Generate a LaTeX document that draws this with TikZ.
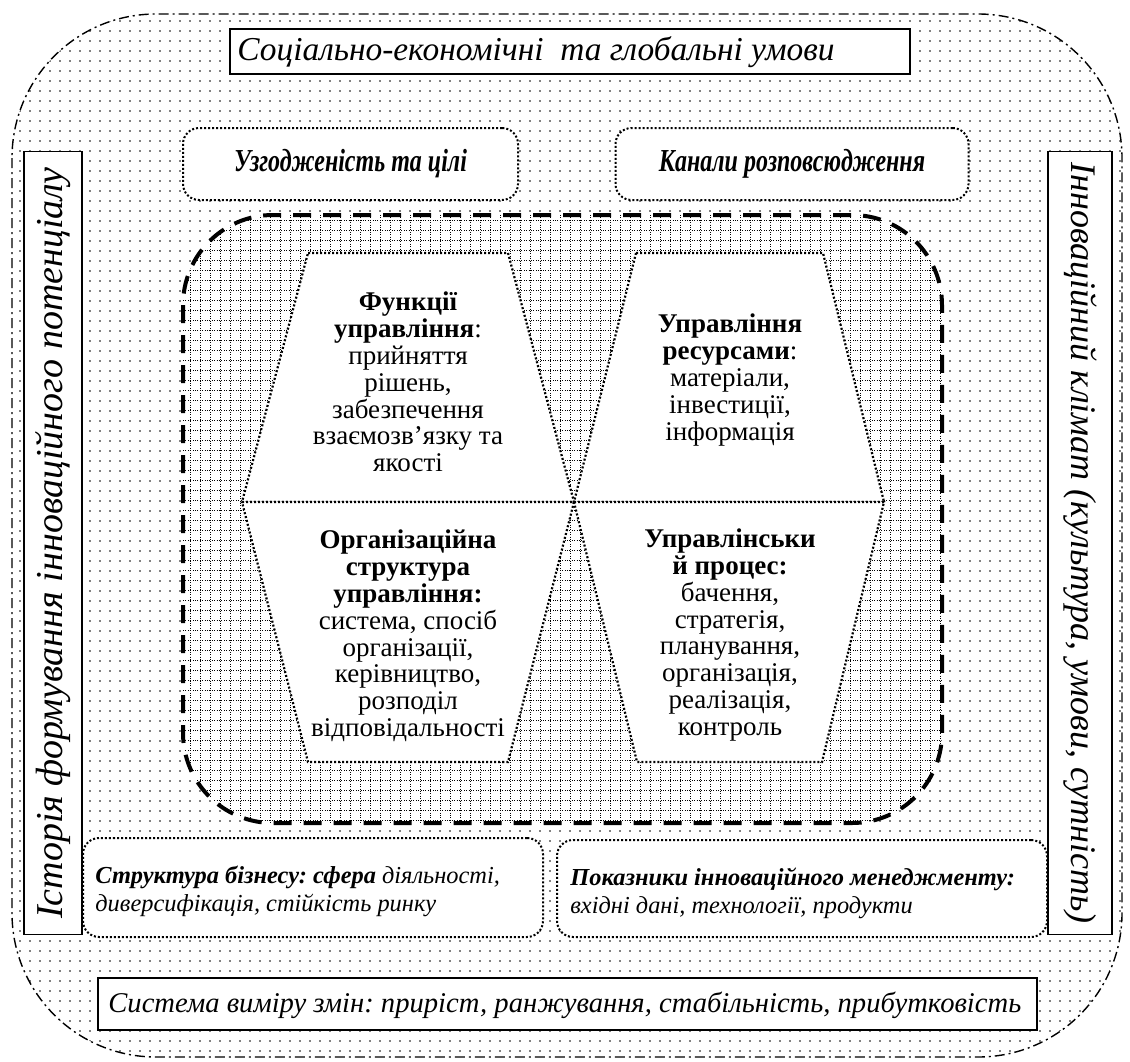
\documentclass[tikz,border=0pt]{standalone}
\usepackage{fontspec}
\setmainfont{Liberation Serif}
\usepackage{graphicx}
\usetikzlibrary{patterns.meta}
\frenchspacing

\begin{document}
\begin{tikzpicture}[x=0.5pt,y=-0.5pt
    ,every node/.append style={inner sep=0pt, text=black}
    ,framebox/.style={draw, line width=0.9pt, fill=white}
    ,dotbox/.style={draw, line width=1pt, dash pattern=on 1pt off 1pt, rounded corners=8pt, fill=white}
    ,trap/.style={draw, line width=1.1pt, dash pattern=on 1pt off 1pt, fill=white}
    ,gridline/.style={line width=0.3pt, dash pattern=on 0.5pt off 0.7pt}
    ,mid/.style={align=center, font=\fontsize{13.5}{13.4}\selectfont}
    ,low/.style={align=left, anchor=west, font=\fontsize{12.2}{14}\selectfont\itshape}
    ,big/.style={font=\fontsize{#1}{#1}\selectfont\itshape}
  ]
  \useasboundingbox (0,0) rectangle (1130,1061);

  % outer field
  \draw[pattern={Dots[distance=5pt, radius=0.4pt]}, line width=0.7pt,
    dash pattern=on 5pt off 2pt on 1pt off 2pt, rounded corners=72pt]
    (12,14) rectangle (1122,1057);

  % inner field with grid
  \begin{scope}
    \clip[rounded corners=45pt] (183,215) rectangle (942,823);
    \fill[white] (183,215) rectangle (942,823);
    \foreach \gx in {190,200,...,940}
      \draw[gridline] (\gx,215) -- (\gx,823);
    \foreach \gy in {220,230,...,820}
      \draw[gridline] (183,\gy) -- (942,\gy);
  \end{scope}
  \draw[line width=2pt, dash pattern=on 9pt off 6pt, rounded corners=45pt]
    (183,215) rectangle (942,823);

  % four trapezoids
  \coordinate (c) at (574,502);
  \draw[trap] (308,253) -- (508,253) -- (c) -- (242,502) -- cycle;
  \draw[trap] (636,253) -- (823,253) -- (884,502) -- (c) -- cycle;
  \draw[trap] (242,502) -- (c) -- (508,762) -- (308,762) -- cycle;
  \draw[trap] (c) -- (884,502) -- (822,762) -- (637,762) -- cycle;

  \node[mid] (func) at (408,382) {\textbf{Функції}\\ \textbf{управління}:\\ прийняття\\ рішень,\\ забезпечення\\ взаємозв’язку та\\ якості};
  \node[mid] (res) at (730,380) {\textbf{Управління}\\ \textbf{ресурсами}:\\ матеріали,\\ інвестиції,\\ інформація};
  \node[mid] (org) at (408,636) {\textbf{Організаційна}\\ \textbf{структура}\\ \textbf{управління:}\\ система, спосіб\\ організації,\\ керівництво,\\ розподіл\\ відповідальності};
  \node[mid] (proc) at (730,635) {\textbf{Управлінськи}\\ \textbf{й процес:}\\ бачення,\\ стратегія,\\ планування,\\ організація,\\ реалізація,\\ контроль};

  % upper dotted boxes
  \node[dotbox, minimum width=167.5pt, minimum height=36pt] (agree) at (350.5,164)
    {\scalebox{0.75}[1]{\fontsize{16}{16}\selectfont\bfseries\itshape Узгодженість та цілі}};
  \node[dotbox, minimum width=176.5pt, minimum height=36pt] (chan) at (792,164)
    {\scalebox{0.75}[1]{\fontsize{16}{16}\selectfont\bfseries\itshape Канали розповсюдження}};

  % lower dotted boxes
  \node[dotbox, minimum width=230pt, minimum height=49.5pt] (biz) at (313,887.5) {};
  \node[low] (biztxt) at (95,891) {\textbf{Структура бізнесу: сфера} діяльності,\\ диверсифікація, стійкість ринку};
  \node[dotbox, minimum width=245pt, minimum height=48.5pt] (ind) at (802,888.5) {};
  \node[low] (indtxt) at (570,893) {\textbf{Показники інноваційного менеджменту:}\\ вхідні дані, технології, продукти};

  % framed labels
  \node[framebox, minimum width=340pt, minimum height=22.5pt] (soc) at (570,51.5) {};
  \node[big=16.7, anchor=west] (soctxt) at (237,52) {Соціально-економічні\ \ та глобальні умови};
  \node[framebox, rotate=90, minimum width=391.5pt, minimum height=29pt, big=19] (hist) at (53,543)
    {Історія формування інноваційного потенціалу};
  \node[framebox, rotate=-90, minimum width=391.5pt, minimum height=32pt, big=18] (clim) at (1080,543)
    {Інноваційний клімат (культура, умови, сутність)};
  \node[framebox, minimum width=469.5pt, minimum height=26pt] (meas) at (567.5,1004) {};
  \node[big=14.3, anchor=west] (meastxt) at (108,1005)
    {Система виміру змін: приріст, ранжування, стабільність, прибутковість};
\end{tikzpicture}
\end{document}
